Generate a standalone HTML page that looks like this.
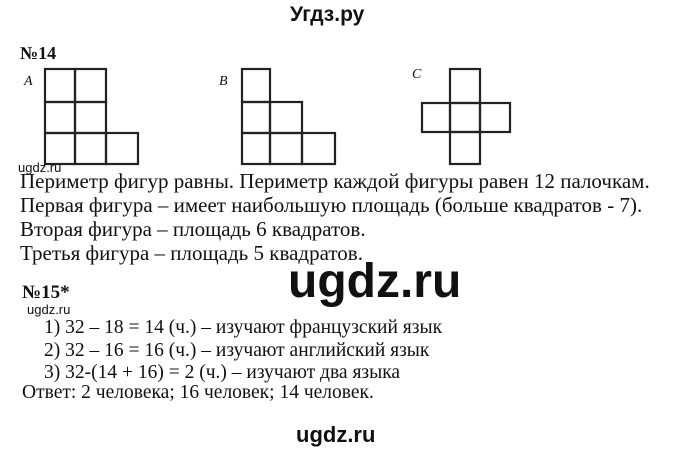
<!DOCTYPE html>
<html><head><meta charset="utf-8"><style>
body{margin:0;width:680px;height:454px;background:#fff;position:relative;overflow:hidden}
.t{position:absolute;white-space:nowrap;font-family:"Liberation Serif","Noto Serif CJK SC",serif;font-size:21px;color:#111;line-height:1}
.u{font-size:19.5px}
.s{position:absolute;white-space:nowrap;font-family:"Liberation Sans","Noto Sans CJK SC",sans-serif;color:#111;line-height:1}
</style></head><body>
<div class="s" style="left:290px;top:4px;font-size:21px;font-weight:bold;">Угдз.ру</div>
<div class="t" style="left:20px;top:44px;font-weight:bold;font-size:18px;">№14</div>
<div class="t" style="left:24px;top:75px;font-style:italic;font-size:14px;">A</div>
<div class="t" style="left:219px;top:75px;font-style:italic;font-size:14px;">B</div>
<div class="t" style="left:412px;top:68px;font-style:italic;font-size:14px;">C</div>
<svg width="680" height="454" style="position:absolute;left:0;top:0" >
<g fill="none" stroke="#222" stroke-width="2.2">
<rect x="45" y="69" width="30" height="33"/><rect x="75" y="69" width="31" height="33"/>
<rect x="45" y="102" width="30" height="31"/><rect x="75" y="102" width="31" height="31"/>
<rect x="45" y="133" width="30" height="31"/><rect x="75" y="133" width="31" height="31"/>
<rect x="106" y="133" width="32" height="31"/>
<rect x="242" y="69" width="28" height="33"/>
<rect x="242" y="102" width="28" height="31"/><rect x="270" y="102" width="32" height="31"/>
<rect x="242" y="133" width="28" height="31"/><rect x="270" y="133" width="32" height="31"/><rect x="302" y="133" width="33" height="31"/>
<rect x="450" y="69" width="30" height="34"/>
<rect x="422" y="103" width="28" height="29"/><rect x="450" y="103" width="30" height="29"/><rect x="480" y="103" width="30" height="29"/>
<rect x="450" y="132" width="30" height="32"/>
</g></svg>
<div class="s" style="left:18px;top:161px;font-size:13px;">ugdz.ru</div>
<div class="t" style="left:20px;top:171px;">Периметр фигур равны. Периметр каждой фигуры равен 12 палочкам.</div>
<div class="t" style="left:20px;top:195px;">Первая фигура – имеет наибольшую площадь (больше квадратов - 7).</div>
<div class="t" style="left:20px;top:219px;">Вторая фигура – площадь 6 квадратов.</div>
<div class="t" style="left:20px;top:243px;">Третья фигура – площадь 5 квадратов.</div>
<div class="s" style="left:288px;top:258px;font-size:48px;font-weight:bold;">ugdz.ru</div>
<div class="t" style="left:22px;top:283px;font-weight:bold;font-size:19px;">№15*</div>
<div class="s" style="left:27px;top:303px;font-size:13px;">ugdz.ru</div>
<div class="t u" style="left:44px;top:318px;">1) 32 – 18 = 14 (ч.) – изучают французский язык</div>
<div class="t u" style="left:44px;top:341px;">2) 32 – 16 = 16 (ч.) – изучают английский язык</div>
<div class="t u" style="left:44px;top:363px;">3) 32-(14 + 16) = 2 (ч.) – изучают два языка</div>
<div class="t u" style="left:22px;top:383px;">Ответ: 2 человека; 16 человек; 14 человек.</div>
<div class="s" style="left:296px;top:424px;font-size:22px;font-weight:bold;">ugdz.ru</div>
</body></html>
